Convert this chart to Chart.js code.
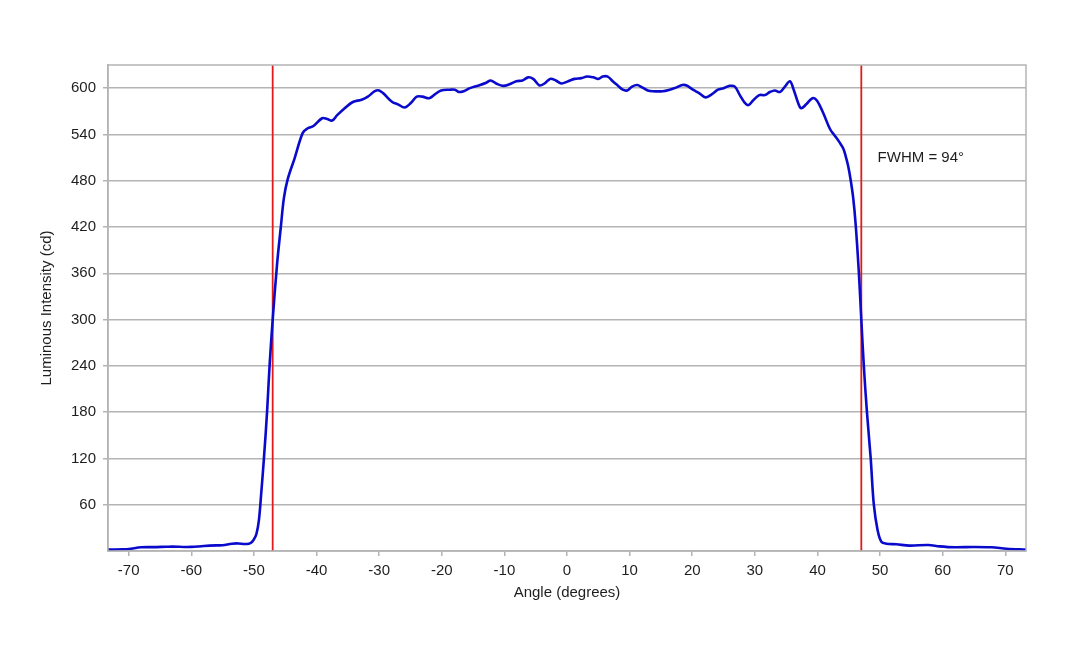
<!DOCTYPE html>
<html lang="en">
    <head>
        <meta charset="UTF-8" />
        <title>Luminous Intensity</title>
        <script src="https://cdn.jsdelivr.net/npm/chart.js@4.4.0/dist/chart.umd.min.js"></script>
        <style>
            body { margin: 0; background: #fff; }
            #wrap { width: 1080px; height: 648px; }
        </style>
    </head>
    <body>
        <div id="wrap"><canvas id="chart" width="1080" height="648"></canvas></div>
        <script>
        // values
        const angles = [
            -73.3, -71, -70, -68, -66, -64, -63, -61, -60, -58, -56, -55, -53.5, -52.5, -51.5, -50.8, -50.4, -50, -49.6, -49.2,
            -48.8, -48.4, -47.9, -47.5, -47, -46.3, -45.7, -45.2, -44.6, -43.5, -42.2, -41.4, -40.5, -39.1, -38.3, -37.5, -36.7, -35.5, -34.2, -32.8,
            -31.8, -30.7, -30, -29.3, -27.9, -27, -25.9, -24.9, -24, -23.1, -22, -21.1, -20.1, -18.7, -17.9, -17.3, -16.5, -15.5, -14.1, -12.9,
            -12.2, -11.3, -10.2, -9.2, -8.1, -7.1, -6.2, -5.4, -4.4, -3.6, -2.7, -1.8, -0.9, 0.2, 1.2, 2.3, 3.2, 4.2, 5, 5.7,
            6.5, 7.3, 8.1, 8.9, 9.6, 10.4, 11.2, 12, 12.9, 13.7, 15.3, 16.4, 17.5, 18.4, 19.1, 20.1, 21.2, 22.1, 23.1, 24.1,
            25, 26, 26.8, 27.6, 28.4, 29, 29.7, 30.7, 31.6, 32.4, 33.2, 34, 34.8, 35.6, 36.2, 36.9, 37.4, 38.2, 39.2, 39.9,
            40.9, 42, 42.8, 43.5, 44.1, 44.5, 44.9, 45.3, 45.7, 46.1, 46.6, 47, 47.4, 47.9, 48.5, 49, 49.6, 50.2, 51, 52.6,
            54.7, 57.7, 59.5, 61.9, 64.9, 67.8, 70.2, 73.3
        ];
        const intensity = [
            1.8, 2.2, 2.6, 4.8, 5, 5.5, 5.7, 5.2, 5.3, 6.5, 7.3, 7.5, 9.5, 9.8, 9, 9.5, 11, 15, 22, 40,
            78, 120, 180, 240, 300, 372, 420, 458, 482, 509, 542, 548, 551, 561, 560, 558, 565, 574, 582, 585,
            589, 596, 597, 593, 582, 579, 575, 581, 589, 589, 587, 592, 597, 598, 598, 595, 596, 600, 603.5, 607,
            610, 606, 603, 605, 609, 610, 614, 612, 603.5, 606, 612, 610, 606, 609, 612, 613, 615, 614, 612, 615,
            615, 609, 603.5, 598, 597, 602, 604, 601, 597, 596, 596, 598, 601, 604, 603.5, 598, 593, 588, 592, 598,
            600, 603, 602, 591, 581, 578, 584, 591, 591, 595, 597, 595, 602, 609, 598, 581, 574, 579, 587, 584,
            568, 547, 538, 530, 522, 512, 499, 481, 458, 423, 362, 300, 240, 180, 120, 60, 27, 12, 9.5, 8.7,
            7, 7.8, 6, 4.8, 5.2, 4.8, 3, 1.8
        ];
        const xTicks = [-70, -60, -50, -40, -30, -20, -10, 0, 10, 20, 30, 40, 50, 60, 70];
        const yTicks = [60, 120, 180, 240, 300, 360, 420, 480, 540, 600];
        const fwhmAngles = [-47, 47];
        const fwhmLabel = 'FWHM = 94°';
        const xTitle = 'Angle (degrees)';
        const yTitle = 'Luminous Intensity (cd)';
        const xMin = -73.3, xMax = 73.3;
        const yMin = 0, yMax = 630;

        const font = { family: '"Liberation Sans", Arial, sans-serif', size: 15 };
        const gridGray = '#b4b4b4';
        const textColor = '#1e1e1e';

        // box round the plot + the FWHM note
        const frame = {
            id: 'frame',
            afterDraw(chart) {
                const { ctx, chartArea: a, scales } = chart;
                ctx.save();
                ctx.strokeStyle = gridGray;
                ctx.lineWidth = 1.5;
                ctx.strokeRect(a.left, a.top, a.right - a.left, a.bottom - a.top);
                ctx.fillStyle = textColor;
                ctx.font = '15px ' + font.family;
                ctx.textBaseline = 'middle';
                ctx.fillText(fwhmLabel, scales.x.getPixelForValue(49.6), scales.y.getPixelForValue(509));
                ctx.restore();
            }
        };

        const ctx = document.getElementById('chart').getContext('2d');
        const myChart = new Chart(ctx, {
            type: 'line',
            data: {
                datasets: [
                    {
                        data: angles.map((a, i) => ({ x: a, y: intensity[i] })),
                        borderColor: '#0a0acc',
                        borderWidth: 2.6,
                        pointRadius: 0,
                        tension: 0.35,
                        order: 1
                    },
                    ...fwhmAngles.map(a => ({
                        data: [{ x: a, y: yMin }, { x: a, y: yMax }],
                        borderColor: '#e01b1b',
                        borderWidth: 1.8,
                        pointRadius: 0,
                        order: 2
                    }))
                ]
            },
            options: {
                responsive: false,
                animation: false,
                layout: { padding: { left: 0, top: 65, right: 54, bottom: 0 } },
                plugins: { legend: { display: false }, tooltip: { enabled: false } },
                scales: {
                    x: {
                        type: 'linear',
                        min: xMin,
                        max: xMax,
                        ticks: { color: textColor, font: font, padding: 6, maxRotation: 0, autoSkip: false },
                        afterBuildTicks: s => { s.ticks = xTicks.map(v => ({ value: v })); },
                        afterFit: s => { s.height = 97; },
                        grid: { drawOnChartArea: false, tickLength: 5, color: gridGray, lineWidth: 1.5 },
                        border: { color: gridGray, width: 1.5 },
                        title: { display: true, text: xTitle, color: textColor, font: font, padding: { top: 0, bottom: 46 } }
                    },
                    y: {
                        min: yMin,
                        max: yMax,
                        ticks: { color: textColor, font: font, padding: 7, autoSkip: false },
                        afterBuildTicks: s => { s.ticks = yTicks.map(v => ({ value: v })); },
                        afterFit: s => { s.width = 108; },
                        grid: { tickLength: 5, color: gridGray, lineWidth: 1.5 },
                        border: { color: gridGray, width: 1.5 },
                        title: { display: true, text: yTitle, color: textColor, font: font, padding: { top: 38, bottom: 0 } }
                    }
                }
            },
            plugins: [frame]
        });
        </script>
    </body>
</html>
